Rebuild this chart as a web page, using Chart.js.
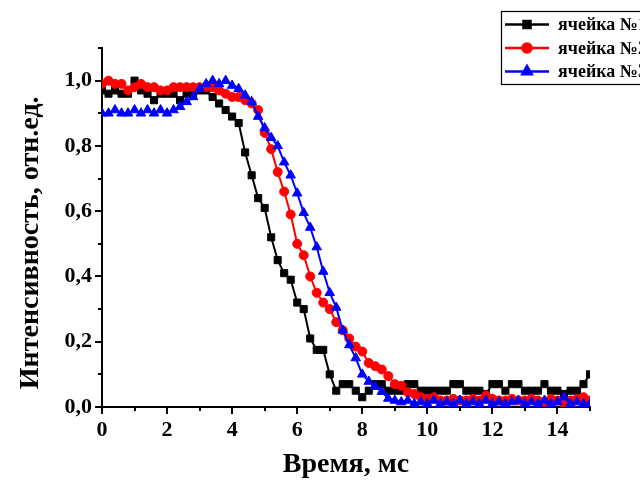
<!DOCTYPE html>
<html>
<head>
<meta charset="utf-8">
<script src="https://cdn.jsdelivr.net/npm/chart.js@4/dist/chart.umd.min.js"></script>
<style>
  html, body { margin: 0; padding: 0; background: #fff; }
  #wrap { width: 640px; height: 485px; position: relative; }
</style>
</head>
<body>
<div id="wrap"><canvas id="c" width="640" height="485"></canvas></div>
<script>
// Time points, ms
const timeMs = [
  0, 0.2, 0.4, 0.6, 0.8, 1.0, 1.2, 1.4, 1.6, 1.8,
  2.0, 2.2, 2.4, 2.6, 2.8, 3.0, 3.2, 3.4, 3.6, 3.8,
  4.0, 4.2, 4.4, 4.6, 4.8, 5.0, 5.2, 5.4, 5.6, 5.8,
  6.0, 6.2, 6.4, 6.6, 6.8, 7.0, 7.2, 7.4, 7.6, 7.8,
  8.0, 8.2, 8.4, 8.6, 8.8, 9.0, 9.2, 9.4, 9.6, 9.8,
  10.0, 10.2, 10.4, 10.6, 10.8, 11.0, 11.2, 11.4, 11.6, 11.8,
  12.0, 12.2, 12.4, 12.6, 12.8, 13.0, 13.2, 13.4, 13.6, 13.8,
  14.0, 14.2, 14.4, 14.6, 14.8, 15.0
];

// Relative intensity for each cell
const cell1 = [
  0.97, 0.96, 0.97, 0.96, 0.96, 1.00, 0.97, 0.96, 0.94, 0.96,
  0.96, 0.96, 0.94, 0.96, 0.96, 0.97, 0.97, 0.95, 0.93, 0.91,
  0.89, 0.87, 0.78, 0.71, 0.64, 0.61, 0.52, 0.45, 0.41, 0.39,
  0.32, 0.30, 0.21, 0.175, 0.175, 0.10, 0.05, 0.07, 0.07, 0.05,
  0.03, 0.05, 0.07, 0.07, 0.05, 0.05, 0.05, 0.07, 0.07, 0.05,
  0.05, 0.05, 0.05, 0.05, 0.07, 0.07, 0.05, 0.05, 0.05, 0.04,
  0.07, 0.07, 0.05, 0.07, 0.07, 0.05, 0.05, 0.05, 0.07, 0.05,
  0.05, 0.04, 0.05, 0.05, 0.07, 0.10
];
const cell2 = [
  0.99, 1.00, 0.99, 0.99, 0.97, 0.98, 0.99, 0.98, 0.98, 0.97,
  0.97, 0.98, 0.98, 0.98, 0.98, 0.98, 0.98, 0.98, 0.97, 0.96,
  0.95, 0.95, 0.94, 0.93, 0.91, 0.84, 0.79, 0.72, 0.66, 0.59,
  0.50, 0.465, 0.40, 0.35, 0.32, 0.30, 0.26, 0.235, 0.21, 0.185,
  0.17, 0.135, 0.125, 0.115, 0.095, 0.07, 0.065, 0.045, 0.04, 0.03,
  0.025, 0.03, 0.02, 0.02, 0.025, 0.02, 0.02, 0.025, 0.02, 0.035,
  0.025, 0.02, 0.02, 0.025, 0.02, 0.02, 0.025, 0.02, 0.015, 0.025,
  0.02, 0.01, 0.02, 0.025, 0.03, 0.02
];
const cell3 = [
  0.90, 0.90, 0.91, 0.90, 0.90, 0.91, 0.90, 0.91, 0.90, 0.91,
  0.90, 0.91, 0.92, 0.935, 0.95, 0.975, 0.99, 1.00, 0.99, 1.00,
  0.985, 0.975, 0.955, 0.935, 0.89, 0.855, 0.825, 0.80, 0.75, 0.71,
  0.655, 0.595, 0.55, 0.49, 0.415, 0.35, 0.305, 0.235, 0.19, 0.15,
  0.10, 0.078, 0.062, 0.047, 0.026, 0.02, 0.015, 0.02, 0.01, 0.015,
  0.01, 0.02, 0.01, 0.015, 0.01, 0.02, 0.01, 0.015, 0.01, 0.02,
  0.01, 0.015, 0.01, 0.015, 0.02, 0.01, 0.015, 0.01, 0.02, 0.01,
  0.015, 0.03, 0.01, 0.015, 0.01, 0.01
];

const seriesNames = ['ячейка №1', 'ячейка №2', 'ячейка №3'];
const seriesColors = ['#000000', '#ff0000', '#0000ff'];
const seriesMarkers = ['rect', 'circle', 'triangle'];
const seriesRadius = [5, 4.5, 5.5];

const xTitle = 'Время, мс';
const yTitle = 'Интенсивность, отн.ед.';

const SERIF = '"Liberation Serif", "Times New Roman", serif';

function toPoints(values) {
  return values.map((v, i) => ({ x: timeMs[i], y: v }));
}

// Outward major/minor tick marks on both axes
const tickMarks = {
  id: 'tickMarks',
  afterDraw(chart) {
    const ctx = chart.ctx;
    const xs = chart.scales.x, ys = chart.scales.y;
    const area = chart.chartArea;
    ctx.save();
    ctx.strokeStyle = '#000';
    ctx.lineWidth = 2;
    ctx.beginPath();
    for (let t = 0; t <= 15; t += 1) {
      const px = Math.round(xs.getPixelForValue(t));
      const len = (t % 2 === 0) ? 7 : 4;
      ctx.moveTo(px, area.bottom);
      ctx.lineTo(px, area.bottom + len);
    }
    for (let k = 0; k <= 11; k++) {
      const py = Math.round(ys.getPixelForValue(k / 10));
      const len = (k % 2 === 0) ? 7 : 4;
      ctx.moveTo(area.left, py);
      ctx.lineTo(area.left - len, py);
    }
    ctx.stroke();
    ctx.restore();
  }
};

// Vertical y-axis title, centred on the 0..1 part of the axis
const yAxisTitle = {
  id: 'yAxisTitle',
  afterDraw(chart) {
    const ctx = chart.ctx;
    const ys = chart.scales.y;
    ctx.save();
    ctx.translate(31, ys.getPixelForValue(0.5) - 1);
    ctx.rotate(-Math.PI / 2);
    ctx.fillStyle = '#000';
    ctx.font = 'bold 28px ' + SERIF;
    ctx.textAlign = 'center';
    ctx.textBaseline = 'middle';
    ctx.fillText(yTitle, 0, 0);
    ctx.restore();
  }
};

// Boxed legend in the upper right corner
const boxLegend = {
  id: 'boxLegend',
  afterDraw(chart) {
    const ctx = chart.ctx;
    const left = 501, top = 11, rowH = 23.5;
    ctx.save();
    ctx.fillStyle = '#fff';
    ctx.fillRect(left, top, 160, 73);
    ctx.strokeStyle = '#000';
    ctx.lineWidth = 1.2;
    ctx.strokeRect(left + 0.5, top + 0.5, 160, 73);
    chart.data.datasets.forEach((ds, i) => {
      const y = top + 13.5 + i * rowH;
      ctx.strokeStyle = ds.borderColor;
      ctx.lineWidth = 2.5;
      ctx.beginPath();
      ctx.moveTo(505, y);
      ctx.lineTo(549, y);
      ctx.stroke();
      Chart.helpers.drawPoint(ctx, {
        pointStyle: ds.pointStyle,
        radius: ds.pointRadius,
        borderWidth: 1
      }, 527, y);
      ctx.fillStyle = ds.borderColor;
      ctx.fill();
      ctx.fillStyle = '#000';
      ctx.font = 'bold 18px ' + SERIF;
      ctx.textBaseline = 'middle';
      ctx.textAlign = 'left';
      ctx.fillText(ds.label, 558, y + 1);
    });
    ctx.restore();
  }
};

const datasets = [cell1, cell2, cell3].map((vals, i) => ({
  label: seriesNames[i],
  data: toPoints(vals),
  borderColor: seriesColors[i],
  backgroundColor: seriesColors[i],
  pointBackgroundColor: seriesColors[i],
  pointBorderColor: seriesColors[i],
  pointStyle: seriesMarkers[i],
  pointRadius: seriesRadius[i],
  pointBorderWidth: 1,
  borderWidth: 2,
  tension: 0,
  order: 3 - i
}));

new Chart(document.getElementById('c'), {
  type: 'line',
  data: { datasets },
  options: {
    responsive: false,
    animation: false,
    events: [],
    layout: { padding: { left: 0, right: 50, top: 48, bottom: 0 } },
    plugins: { legend: { display: false }, tooltip: { enabled: false } },
    scales: {
      x: {
        type: 'linear',
        min: 0, max: 15,
        afterFit(s) { s.height = 78; },
        border: { display: true, color: '#000', width: 2 },
        grid: { display: true, drawOnChartArea: false, drawTicks: true, tickLength: 7, color: 'rgba(0,0,0,0)' },
        ticks: {
          stepSize: 2, includeBounds: false, color: '#000', padding: 3,
          maxRotation: 0,
          font: { family: SERIF, weight: 'bold', size: 22 },
          callback: (v) => String(v)
        },
        title: {
          display: true, text: xTitle, color: '#000',
          font: { family: SERIF, weight: 'bold', size: 28 },
          padding: { top: 0, bottom: 3 }
        }
      },
      y: {
        min: 0, max: 1.1,
        afterFit(s) { s.width = 102; },
        border: { display: true, color: '#000', width: 2 },
        grid: { display: true, drawOnChartArea: false, drawTicks: true, tickLength: 7, color: 'rgba(0,0,0,0)' },
        ticks: {
          stepSize: 0.2, includeBounds: false, color: '#000', padding: 3,
          font: { family: SERIF, weight: 'bold', size: 22 },
          callback: (v) => v.toFixed(1).replace('.', ',')
        },
        title: { display: false }
      }
    }
  },
  plugins: [tickMarks, yAxisTitle, boxLegend]
});
</script>
</body>
</html>
